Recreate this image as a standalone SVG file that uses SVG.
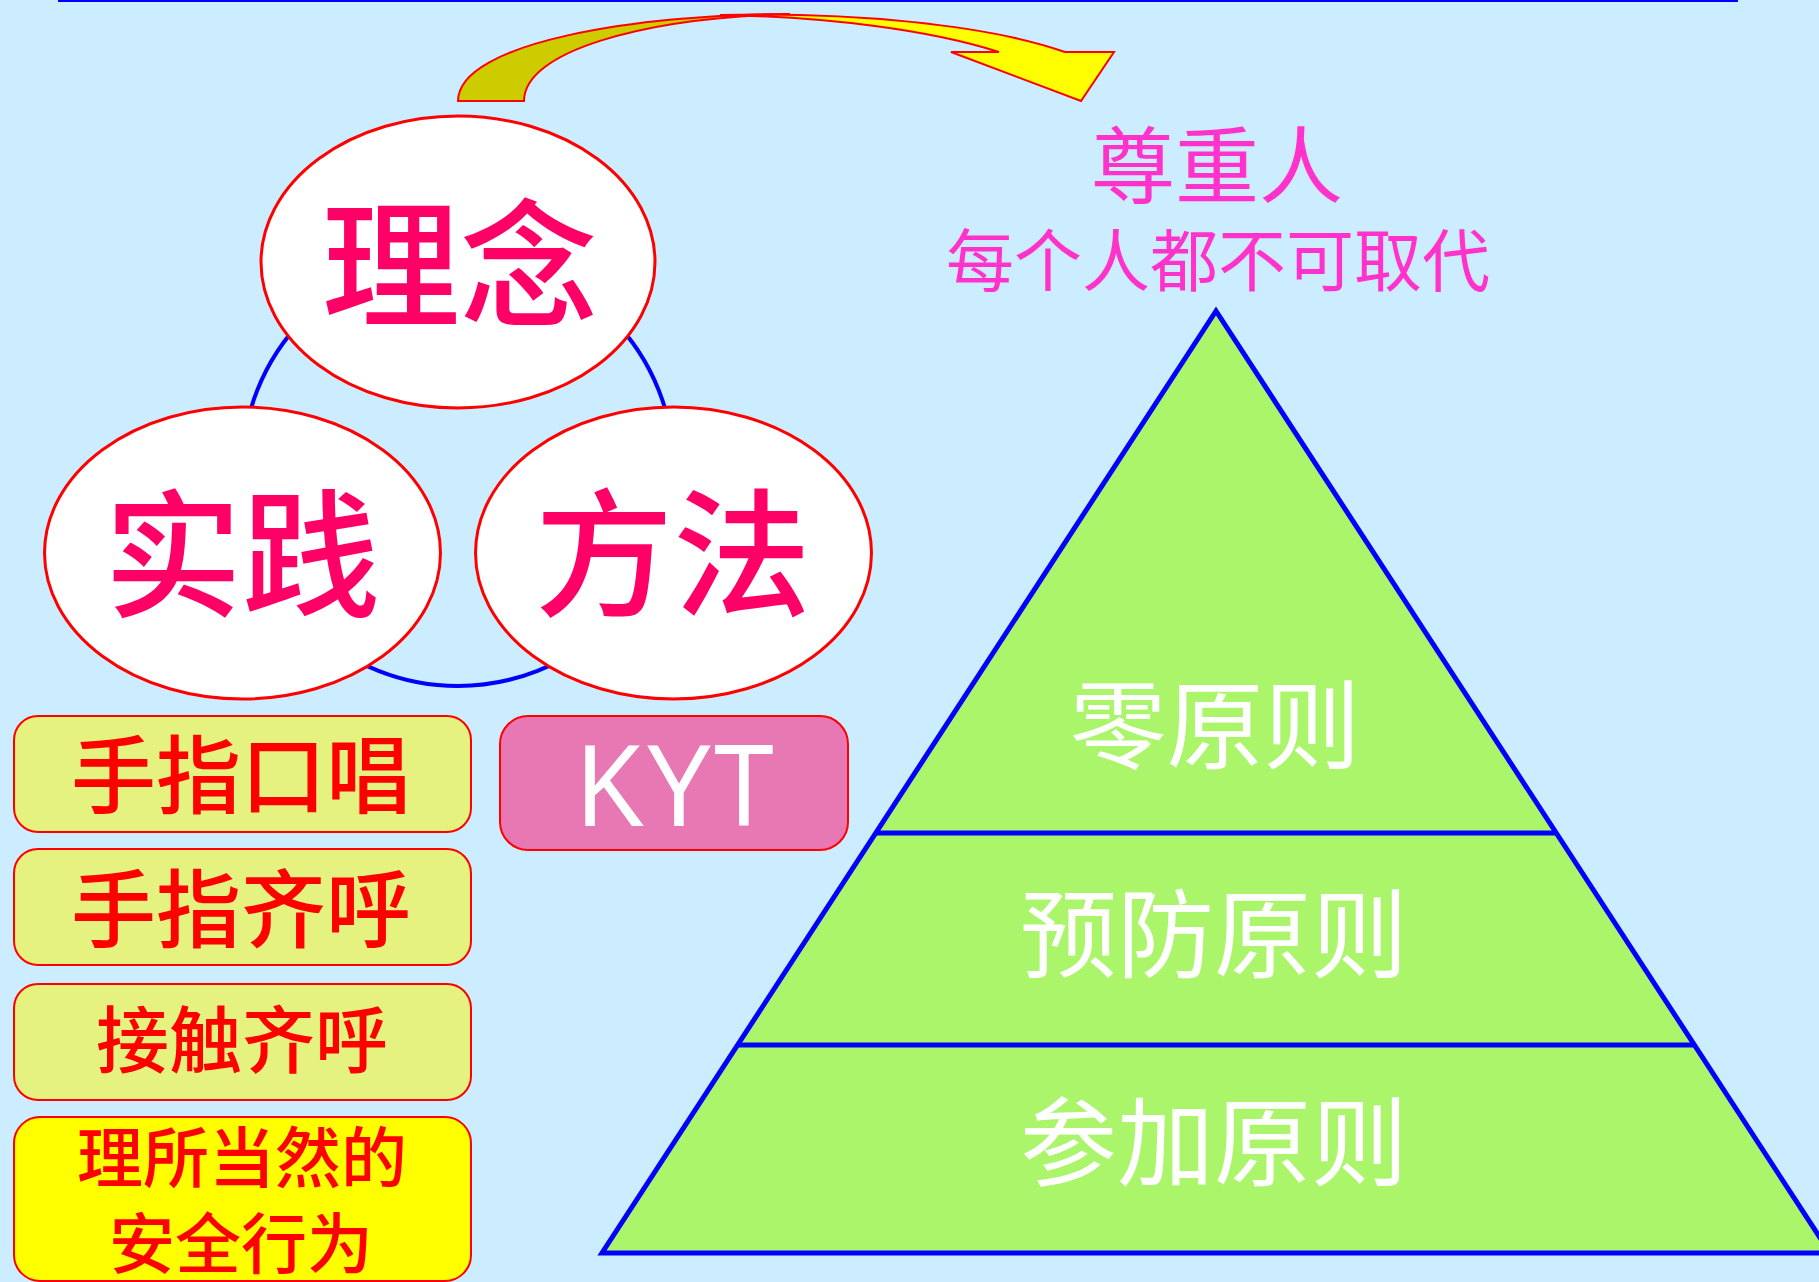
<svg xmlns="http://www.w3.org/2000/svg" width="1819" height="1282" viewBox="0 0 1819 1282">
<style>
.cjk{font-family:"Noto Sans CJK SC","Noto Sans",sans-serif;text-anchor:middle}
.ell{fill:#FFFFFF;stroke:#FF0000;stroke-width:3}
.ellt{fill:#FF0066;font-size:138px;font-weight:500}
.box{fill:#E5F27F;stroke:#FF0000;stroke-width:2}
.boxt{fill:#FF0000;font-weight:500}
.pyt{fill:#FFFFFF;font-size:97px}
.head{fill:#FF33CC}
</style>
<rect x="0" y="0" width="1819" height="1282" fill="#CCECFF"/>
<line x1="58" y1="1" x2="1738" y2="1" stroke="#0000FF" stroke-width="2"/>
<g id="curved-arrow">
<path d="M458,101 C458,42 640,14 790,14 C640,18 524,52 524,101 Z" fill="#CCCC00" stroke="#FF0000" stroke-width="2"/>
<path d="M720,15 C850,12 985,24 1065,52 L1114,52 L1081,101 L951,52 L999,52 C930,30 830,17 720,15 Z" fill="#FFFF00" stroke="#FF0000" stroke-width="2"/>
</g>
<g id="connectors">
<circle cx="458" cy="470" r="216" fill="none" stroke="#0000FF" stroke-width="4"/>
</g>
<g id="node-linian">
<ellipse class="ell" cx="458" cy="262" rx="197" ry="146"/>
<text class="cjk ellt" x="460" y="316">理念</text>
</g>
<g id="node-shijian">
<ellipse class="ell" cx="242.5" cy="553" rx="198" ry="146"/>
<text class="cjk ellt" x="242" y="606">实践</text>
</g>
<g id="node-fangfa">
<ellipse class="ell" cx="673.5" cy="553" rx="198" ry="146"/>
<text class="cjk ellt" x="673" y="605">方法</text>
</g>
<g id="node-box1">
<rect class="box" x="14" y="716" width="457" height="116" rx="24"/>
<text class="cjk boxt" x="241" y="807" font-size="85">手指口唱</text>
</g>
<g id="node-box2">
<rect class="box" x="14" y="849" width="457" height="116" rx="24"/>
<text class="cjk boxt" x="241" y="941" font-size="85">手指齐呼</text>
</g>
<g id="node-box3">
<rect class="box" x="14" y="984" width="457" height="116" rx="24"/>
<text class="cjk boxt" x="242" y="1067" font-size="73">接触齐呼</text>
</g>
<g id="node-box4">
<rect x="14" y="1117" width="457" height="164" rx="26" fill="#FFFF00" stroke="#FF0000" stroke-width="2"/>
<text class="cjk boxt" x="242" y="1182" font-size="66">理所当然的</text>
<text class="cjk boxt" x="241" y="1268" font-size="66">安全行为</text>
</g>
<g id="node-kyt">
<rect x="500" y="716" width="348" height="134" rx="28" fill="#E878B4" stroke="#FF0000" stroke-width="2"/>
<text x="676" y="826" font-family="'Liberation Sans',Arial,sans-serif" font-size="117" fill="#FFFFFF" text-anchor="middle" textLength="198" lengthAdjust="spacingAndGlyphs">KYT</text>
</g>
<g id="node-header">
<text class="cjk head" x="1217" y="197" font-size="84">尊重人</text>
<text class="cjk head" x="1218" y="286" font-size="68">每个人都不可取代</text>
</g>
<g id="node-pyramid">
<polygon points="1216,311 602,1253 1830,1253" fill="#AAF56A" stroke="#0000FF" stroke-width="5"/>
<line x1="876" y1="833" x2="1556" y2="833" stroke="#0000FF" stroke-width="5"/>
<line x1="738" y1="1045" x2="1694" y2="1045" stroke="#0000FF" stroke-width="5"/>
<text class="cjk pyt" x="1215" y="761">零原则</text>
<text class="cjk pyt" x="1214" y="970">预防原则</text>
<text class="cjk pyt" x="1214" y="1178">参加原则</text>
</g>
</svg>
